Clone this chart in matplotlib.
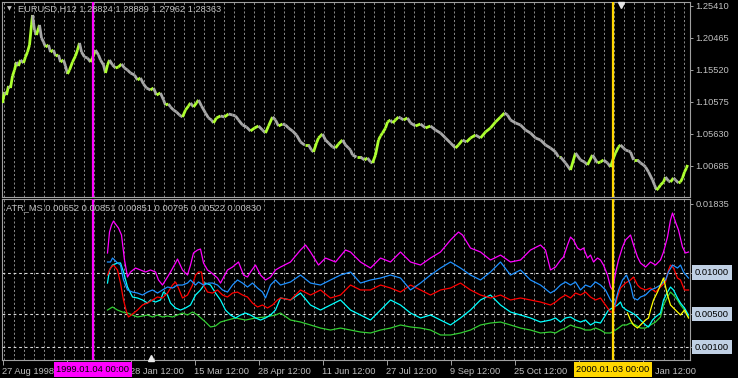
import matplotlib.pyplot as plt
import numpy as np
from matplotlib.collections import LineCollection
from matplotlib.transforms import blended_transform_factory

plt.rcParams['font.family'] = ['Liberation Sans', 'DejaVu Sans']

# EURUSD H12 closes, (bar index, price)
price_path = [
    (0, 1.1038), (2, 1.1208), (4, 1.1161), (6, 1.1300), (8, 1.1269), (10, 1.1455), (12, 1.1547),
    (14, 1.1671), (16, 1.1609), (18, 1.1702), (21, 1.1656), (23, 1.1748), (25, 1.1826), (27, 1.1934),
    (29, 1.2243), (30, 1.2397), (32, 1.2165), (34, 1.2088), (36, 1.2196), (37, 1.2243), (39, 1.2042),
    (41, 1.1980), (43, 1.1903), (46, 1.1934), (48, 1.1826), (51, 1.1856), (53, 1.1764), (56, 1.1779),
    (58, 1.1671), (61, 1.1702), (63, 1.1609), (65, 1.1486), (67, 1.1547), (70, 1.1671), (73, 1.1764),
    (75, 1.1856), (77, 1.1965), (79, 1.1826), (82, 1.1748), (85, 1.1733), (88, 1.1671), (90, 1.1733),
    (93, 1.1856), (96, 1.1779), (98, 1.1702), (101, 1.1625), (103, 1.1501), (105, 1.1625), (107, 1.1702),
    (110, 1.1625), (113, 1.1578), (116, 1.1594), (119, 1.1640), (122, 1.1578), (125, 1.1547), (128, 1.1501),
    (132, 1.1470), (135, 1.1393), (138, 1.1424), (141, 1.1331), (144, 1.1269), (148, 1.1238), (151, 1.1269),
    (154, 1.1161), (158, 1.1192), (161, 1.1084), (163, 1.1007), (166, 1.1022), (168, 1.0976), (171, 1.0929),
    (174, 1.0899), (177, 1.0852), (180, 1.0821), (183, 1.0929), (186, 1.0991), (188, 1.1038), (191, 1.0976),
    (194, 1.1038), (196, 1.1084), (199, 1.0991), (203, 1.0883), (206, 1.0806), (209, 1.0775), (211, 1.0729),
    (214, 1.0806), (218, 1.0837), (222, 1.0821), (226, 1.0868), (230, 1.0852), (233, 1.0837), (236, 1.0775),
    (240, 1.0698), (244, 1.0667), (248, 1.0605), (252, 1.0651), (256, 1.0682), (260, 1.0620), (263, 1.0574),
    (266, 1.0682), (270, 1.0821), (273, 1.0775), (276, 1.0682), (280, 1.0713), (283, 1.0698), (286, 1.0651),
    (290, 1.0605), (294, 1.0543), (298, 1.0435), (302, 1.0389), (306, 1.0389), (309, 1.0311), (311, 1.0281),
    (314, 1.0420), (316, 1.0497), (318, 1.0528), (320, 1.0559), (323, 1.0466), (326, 1.0420), (330, 1.0358),
    (333, 1.0342), (336, 1.0404), (340, 1.0466), (343, 1.0389), (346, 1.0342), (348, 1.0311), (350, 1.0234),
    (354, 1.0203), (358, 1.0203), (362, 1.0157), (365, 1.0188), (368, 1.0126), (370, 1.0111), (373, 1.0234),
    (376, 1.0466), (378, 1.0528), (380, 1.0574), (383, 1.0651), (385, 1.0744), (388, 1.0775), (390, 1.0729),
    (393, 1.0775), (396, 1.0821), (398, 1.0806), (401, 1.0775), (405, 1.0806), (408, 1.0729), (413, 1.0682),
    (418, 1.0713), (423, 1.0651), (428, 1.0682), (433, 1.0620), (438, 1.0574), (443, 1.0497), (448, 1.0420),
    (453, 1.0342), (456, 1.0389), (460, 1.0466), (464, 1.0435), (468, 1.0497), (473, 1.0543), (478, 1.0497),
    (483, 1.0590), (488, 1.0651), (493, 1.0744), (498, 1.0821), (502, 1.0883), (505, 1.0852), (508, 1.0775),
    (513, 1.0729), (518, 1.0698), (523, 1.0620), (528, 1.0574), (533, 1.0497), (538, 1.0466), (543, 1.0389),
    (548, 1.0342), (553, 1.0281), (556, 1.0203), (558, 1.0203), (563, 1.0111), (568, 1.0002), (573, 1.0265),
    (578, 1.0157), (582, 1.0126), (585, 1.0080), (590, 1.0234), (595, 1.0111), (598, 1.0126), (601, 1.0157),
    (605, 1.0111), (608, 1.0049), (611, 1.0188), (613, 1.0265), (616, 1.0358), (618, 1.0389), (621, 1.0342),
    (623, 1.0311), (626, 1.0296), (628, 1.0281), (631, 1.0157), (635, 1.0157), (638, 1.0111), (641, 1.0080),
    (643, 1.0049), (646, 0.9972), (650, 0.9848), (652, 0.9771), (654, 0.9693), (656, 0.9724), (658, 0.9771),
    (661, 0.9817), (663, 0.9894), (666, 0.9833), (668, 0.9817), (671, 0.9879), (673, 0.9848), (676, 0.9802),
    (678, 0.9817), (680, 0.9879), (682, 0.9972), (684, 1.0033), (685, 1.0080),
]

# ATR_MS buffers, values in units of 0.001
atr_magenta = [
    (105, 12.39), (107, 14.93), (109, 15.78), (111, 16.26), (113, 15.90), (116, 15.41), (119, 14.57),
    (122, 11.54), (125, 9.48), (128, 10.09), (133, 10.57), (138, 10.33), (143, 10.09), (148, 10.33),
    (153, 10.09), (156, 9.12), (160, 8.51), (165, 9.48), (168, 10.09), (173, 11.18), (175, 11.66),
    (180, 10.33), (185, 9.72), (188, 10.93), (191, 12.39), (195, 12.75), (198, 12.87), (201, 11.18),
    (205, 10.33), (208, 10.09), (215, 9.36), (218, 8.75), (225, 10.33), (230, 10.69), (236, 11.30),
    (241, 9.72), (245, 9.48), (248, 10.09), (253, 10.93), (258, 9.72), (263, 9.12), (268, 9.48),
    (273, 10.33), (278, 10.69), (288, 11.30), (298, 12.75), (303, 13.36), (308, 12.51), (316, 10.93),
    (323, 11.78), (333, 11.30), (343, 12.75), (348, 12.51), (358, 11.30), (368, 10.57), (378, 11.78),
    (388, 11.30), (398, 12.51), (408, 11.30), (418, 10.93), (428, 11.78), (438, 12.51), (448, 13.96),
    (456, 14.93), (460, 14.57), (468, 12.99), (478, 12.51), (488, 11.54), (498, 12.14), (508, 11.30),
    (518, 11.54), (528, 12.75), (538, 13.36), (543, 12.75), (548, 10.33), (553, 10.69), (558, 11.54),
    (561, 11.90), (565, 13.36), (568, 14.32), (571, 13.96), (575, 12.99), (578, 12.75), (581, 12.99),
    (585, 11.78), (588, 12.14), (591, 11.30), (595, 11.78), (598, 11.54), (601, 10.93), (605, 9.72),
    (608, 8.27), (610, 7.91), (613, 9.97), (616, 11.54), (620, 13.11), (623, 13.96), (626, 14.32),
    (628, 14.57), (631, 13.36), (635, 11.90), (638, 11.18), (643, 10.69), (648, 11.30), (653, 10.93),
    (658, 11.54), (661, 12.51), (665, 14.32), (668, 16.38), (670, 17.23), (673, 16.14), (676, 15.17),
    (680, 13.11), (683, 12.39), (686, 12.51),
]
atr_blue = [
    (105, 11.30), (108, 11.30), (110, 11.78), (115, 11.18), (118, 10.93), (121, 9.12), (125, 7.91),
    (130, 7.66), (135, 7.54), (140, 7.30), (145, 7.66), (150, 7.91), (155, 7.54), (160, 7.91), (165, 8.27),
    (170, 8.15), (175, 8.51), (180, 8.51), (185, 8.75), (188, 9.12), (193, 8.51), (196, 8.88), (201, 8.51),
    (206, 8.75), (210, 8.75), (215, 8.51), (220, 7.91), (225, 7.66), (230, 8.51), (235, 9.12), (240, 8.75),
    (245, 8.27), (250, 8.75), (255, 8.15), (260, 7.66), (263, 6.94), (268, 8.51), (273, 9.12), (278, 8.51),
    (288, 8.88), (298, 9.72), (308, 8.75), (318, 8.51), (328, 9.12), (338, 9.72), (348, 10.09), (358, 8.75),
    (368, 9.12), (378, 9.36), (388, 9.72), (398, 9.36), (408, 7.91), (418, 8.75), (428, 9.72), (438, 10.57),
    (448, 11.30), (458, 10.57), (468, 9.72), (478, 9.12), (488, 10.09), (498, 11.30), (508, 9.72),
    (518, 10.33), (528, 9.12), (538, 8.51), (548, 7.54), (553, 7.91), (558, 8.51), (563, 8.88), (568, 8.51),
    (573, 8.88), (578, 7.91), (583, 8.51), (588, 8.27), (593, 8.88), (598, 8.51), (603, 7.91), (608, 6.70),
    (612, 6.09), (616, 7.91), (620, 9.12), (624, 9.72), (628, 8.51), (631, 6.94), (635, 6.70), (638, 7.06),
    (643, 7.30), (648, 7.91), (653, 8.15), (658, 8.51), (663, 9.12), (666, 10.09), (670, 10.93),
    (675, 10.57), (678, 10.93), (681, 10.09), (686, 9.36),
]
atr_red = [
    (105, 9.72), (108, 10.57), (111, 10.93), (115, 10.33), (118, 8.75), (121, 6.70), (124, 5.24),
    (126, 4.64), (130, 5.00), (135, 5.48), (140, 6.09), (145, 6.33), (150, 6.70), (155, 7.06), (160, 6.94),
    (165, 7.54), (170, 8.51), (173, 8.88), (176, 8.15), (180, 6.94), (185, 7.30), (190, 8.51), (193, 9.72),
    (196, 10.09), (199, 10.09), (201, 8.51), (205, 7.66), (210, 7.54), (215, 7.91), (220, 7.30),
    (225, 7.06), (230, 7.54), (235, 7.66), (240, 7.30), (245, 7.06), (250, 6.33), (255, 5.85), (260, 6.09),
    (265, 5.73), (270, 6.09), (275, 6.70), (278, 6.94), (288, 6.70), (298, 7.91), (308, 7.30), (318, 7.91),
    (328, 6.94), (338, 7.30), (348, 8.51), (358, 7.91), (368, 7.91), (378, 8.51), (388, 8.15), (398, 7.66),
    (408, 8.51), (418, 7.91), (428, 7.30), (438, 7.91), (448, 8.15), (458, 8.75), (468, 7.91), (478, 7.30),
    (488, 6.94), (498, 7.30), (508, 6.70), (518, 6.94), (528, 6.70), (538, 6.45), (548, 6.09), (553, 6.45),
    (558, 6.94), (563, 7.30), (568, 6.94), (573, 7.54), (578, 7.30), (583, 7.66), (588, 7.06), (593, 6.70),
    (598, 6.94), (603, 6.09), (608, 5.24), (611, 5.24), (615, 7.06), (618, 8.15), (623, 8.75), (628, 9.12),
    (631, 9.48), (635, 8.51), (638, 8.15), (643, 7.91), (648, 8.15), (653, 7.66), (658, 8.27), (663, 8.88),
    (666, 10.33), (668, 10.93), (671, 10.57), (675, 9.36), (678, 9.12), (682, 7.91), (686, 7.91),
]
atr_cyan = [
    (105, 8.75), (107, 10.33), (110, 10.93), (115, 11.18), (118, 11.18), (121, 10.09), (125, 8.27),
    (130, 7.06), (135, 6.94), (140, 6.70), (145, 6.33), (148, 6.70), (153, 6.45), (158, 6.70), (161, 7.66),
    (165, 7.30), (168, 6.33), (173, 5.73), (178, 5.48), (183, 5.73), (188, 6.09), (193, 7.30), (198, 7.91),
    (203, 8.75), (208, 8.51), (213, 7.54), (218, 6.70), (223, 5.48), (228, 4.88), (233, 4.52), (238, 4.88),
    (243, 5.12), (248, 4.88), (253, 4.52), (258, 4.27), (263, 4.52), (268, 4.88), (273, 5.48), (278, 6.94),
    (288, 6.70), (298, 7.54), (308, 6.09), (318, 5.48), (328, 6.09), (338, 6.70), (348, 5.48), (358, 4.88),
    (368, 4.27), (378, 5.48), (388, 6.70), (398, 6.09), (408, 5.12), (418, 4.52), (428, 4.88), (438, 4.27),
    (448, 3.67), (458, 4.52), (468, 5.48), (478, 6.70), (488, 7.30), (498, 6.09), (508, 5.24), (518, 4.88),
    (528, 4.52), (538, 4.03), (548, 4.27), (553, 4.52), (558, 4.03), (563, 4.52), (568, 4.64), (573, 4.27),
    (578, 4.03), (583, 4.27), (588, 3.67), (593, 4.03), (598, 3.91), (603, 4.88), (606, 5.48), (610, 5.73),
    (615, 6.09), (618, 6.45), (620, 5.85), (624, 5.48), (628, 5.24), (633, 4.88), (638, 4.27), (643, 3.67),
    (646, 3.43), (650, 4.27), (653, 4.64), (658, 5.12), (661, 6.70), (665, 7.66), (668, 8.27), (671, 7.91),
    (675, 6.94), (678, 6.33), (682, 5.73), (686, 4.88),
]
atr_green = [
    (105, 5.48), (110, 5.85), (115, 5.48), (120, 5.24), (125, 5.12), (130, 4.88), (135, 4.64), (140, 4.76),
    (145, 4.88), (150, 4.64), (155, 4.88), (160, 4.64), (165, 4.76), (170, 4.64), (175, 4.88), (180, 5.12),
    (185, 4.88), (190, 5.24), (195, 4.88), (203, 4.03), (208, 3.43), (213, 3.55), (218, 4.03), (225, 4.27),
    (233, 4.52), (243, 4.27), (253, 4.52), (263, 4.64), (273, 4.88), (278, 5.12), (288, 4.27), (298, 4.03),
    (308, 3.67), (318, 3.30), (328, 3.06), (338, 3.30), (348, 3.06), (358, 2.82), (368, 2.70), (378, 3.06),
    (388, 3.30), (398, 3.67), (408, 3.43), (418, 3.30), (428, 3.06), (438, 2.46), (448, 2.46), (458, 2.70),
    (468, 3.06), (478, 3.67), (488, 3.91), (498, 4.03), (508, 3.67), (518, 3.30), (528, 3.06), (538, 2.70),
    (548, 2.82), (553, 2.70), (558, 3.06), (563, 3.30), (568, 3.67), (573, 3.43), (578, 3.30), (583, 3.06),
    (588, 3.06), (593, 3.30), (598, 3.06), (603, 2.70), (608, 2.70), (613, 3.06), (616, 3.30), (620, 3.67),
    (624, 3.67), (628, 3.91), (633, 3.67), (638, 3.30), (643, 3.30), (648, 3.67), (653, 4.03), (658, 4.64),
    (661, 6.09), (665, 7.06), (668, 7.66), (671, 7.30), (675, 6.70), (678, 6.09), (682, 5.48), (686, 4.64),
]
atr_yellow = [
    (625, 5.12), (628, 4.27), (631, 3.67), (635, 3.30), (638, 3.67), (643, 4.27), (646, 4.52), (648, 5.48),
    (651, 6.70), (655, 7.66), (658, 8.51), (661, 9.36), (665, 7.30), (668, 6.09), (673, 5.48), (678, 4.88),
    (682, 5.48), (686, 4.52),
]

price_ticks = [1.25410, 1.20465, 1.15520, 1.10575, 1.05630, 1.00685]
atr_levels = [0.010, 0.005, 0.001]
atr_max = 0.01835
time_tick_bars = [0, 64, 128, 192, 256, 320, 384, 448, 512, 576, 640]
# labels at 64 and 576 sit fully under the date boxes
time_tick_labels = ["27 Aug 1998", "", "28 Jan 12:00", "15 Mar 12:00", "28 Apr 12:00",
                    "11 Jun 12:00", "27 Jul 12:00", "9 Sep 12:00", "25 Oct 12:00", "",
                    "20 Jan 12:00"]
marker_lines = [(90.5, "1999.01.04 00:00", "#ff00ff"), (610.5, "2000.01.03 00:00", "#ffd700")]

title_main = "EURUSD,H12 1.28824 1.28889 1.27962 1.28363"
title_atr = "ATR_MS 0.00652 0.00851 0.00851 0.00795 0.00522 0.00830"

FG = "#c0c0c0"
FRAME = "#a0a0a0"
FS = 6.7

W, H = 738, 378
fig = plt.figure(figsize=(W / 100, H / 100), dpi=100, facecolor="black")
ax_main = fig.add_axes([2 / W, 1 - 197 / H, 688 / W, 195 / H])
ax_atr = fig.add_axes([2 / W, 1 - 360 / H, 688 / W, 161 / H])

for ax in (ax_main, ax_atr):
    ax.set_facecolor("black")
    ax.set_xlim(-0.5, 687.5)
    for s in ax.spines.values():
        s.set_color(FRAME)
        s.set_linewidth(0.8)
    for gx in np.arange(1, 688, 10):
        ax.axvline(gx, color="#8a8a8a", lw=0.7, ls=(0, (2.2, 2.2)), zorder=0)
    for bx, _, col in marker_lines:
        ax.axvline(bx, color=col, lw=1.6, zorder=4)
    ax.yaxis.tick_right()
    ax.tick_params(axis="y", colors=FG, labelsize=FS, length=2.5, width=0.7, pad=1.5)
    ax.tick_params(axis="y", color=FRAME)

# price panel: segments coloured by direction, like up/down bars
pb = np.array([b for b, _ in price_path], dtype=float)
pc = np.array([c for _, c in price_path])
segs = [[(pb[i - 1], pc[i - 1]), (pb[i], pc[i])] for i in range(1, len(pb))]
cols = ["#adff2f" if pc[i] >= pc[i - 1] else "#a8a8a8" for i in range(1, len(pb))]
ax_main.add_collection(LineCollection(segs, colors=cols, linewidths=2.0, zorder=3))
ax_main.set_ylim(0.9585, 1.2598)
ax_main.set_yticks(price_ticks)
ax_main.set_yticklabels([f"{v:.5f}" for v in price_ticks])
ax_main.set_xticks([])
ax_main.plot([618], [0.985], marker="v", color="#e8e8e8", ms=5,
             transform=blended_transform_factory(ax_main.transData, ax_main.transAxes),
             clip_on=False, zorder=6)

# ATR panel
for series, col in [(atr_green, "#32cd32"), (atr_cyan, "#00ffff"), (atr_red, "#ff0000"),
                    (atr_blue, "#1e90ff"), (atr_magenta, "#ff00ff"), (atr_yellow, "#ffff00")]:
    xb = [b for b, _ in series]
    yv = [v * 1e-3 for _, v in series]
    ax_atr.plot(xb, yv, color=col, lw=0.9, zorder=3)
ax_atr.set_ylim(-0.00057, 0.01893)
for lv in atr_levels:
    ax_atr.axhline(lv, color="#d8d8d8", lw=0.8, ls=(0, (2.5, 2.5)), zorder=2)
ax_atr.set_yticks([atr_max] + atr_levels)
ax_atr.set_yticklabels([f"{atr_max:.5f}"] + ["" for _ in atr_levels])
yt = blended_transform_factory(ax_atr.transAxes, ax_atr.transData)
for lv in atr_levels:
    ax_atr.text(1.0073, lv, f"{lv:.5f}", transform=yt, ha="left", va="center", fontsize=FS,
                color="black", bbox=dict(boxstyle="square,pad=0.3", fc="#c0d0e4", ec="none"),
                clip_on=False)

ax_atr.set_xticks(time_tick_bars)
ax_atr.set_xticklabels(time_tick_labels)
ax_atr.tick_params(axis="x", colors=FG, labelsize=FS, length=3.5, width=0.7, pad=1.5)
ax_atr.tick_params(axis="x", color=FRAME)
for lab in ax_atr.get_xticklabels():
    lab.set_ha("left")

xt = blended_transform_factory(ax_atr.transData, ax_atr.transAxes)
for bx, txt, col in marker_lines:
    ax_atr.text(bx, -0.058, txt, transform=xt, ha="center", va="center", fontsize=FS,
                color="black", bbox=dict(boxstyle="square,pad=0.3", fc=col, ec="none"),
                clip_on=False, zorder=10)
ax_atr.plot([148], [0.012], marker="^", color="#e8e8e8", ms=5, transform=xt, clip_on=False, zorder=6)

# window titles
fig.text(7 / W, 1 - 9 / H, "\u25bc", fontsize=4.5, color=FG, ha="left", va="center",
         family="DejaVu Sans")
fig.text(18 / W, 1 - 9 / H, title_main, fontsize=FS, color=FG, ha="left", va="center")
fig.text(6 / W, 1 - 208 / H, title_atr, fontsize=FS, color=FG, ha="left", va="center")

fig.savefig("out.png", dpi=100, facecolor="black")
